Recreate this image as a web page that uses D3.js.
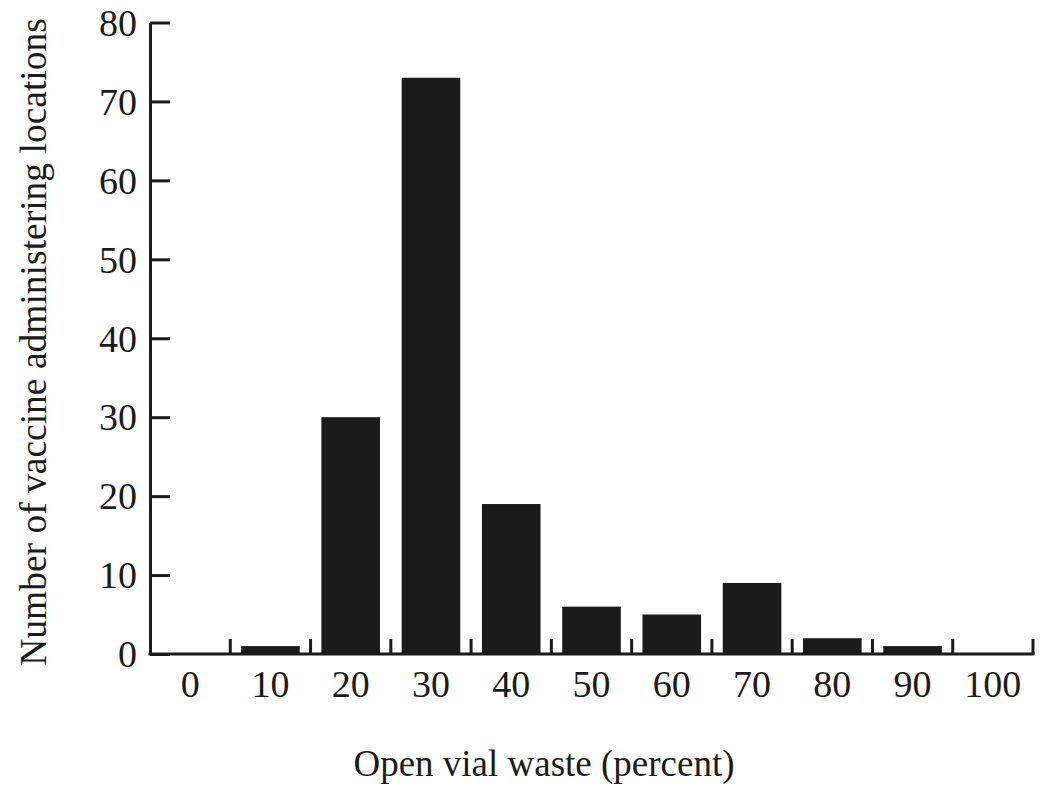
<!DOCTYPE html>
<html lang="en">
<head>
<meta charset="UTF-8">
<title>Open vial waste</title>
<script src="https://d3js.org/d3.v7.min.js"></script>
<style>
body { margin: 0; background: #fff; }
svg text { font-family: "Liberation Serif", "Times New Roman", serif; fill: #1a1a1a; }
</style>
</head>
<body>
<svg width="1050" height="800"></svg>
<script>
// data
const categories = ["0", "10", "20", "30", "40", "50", "60", "70", "80", "90", "100"];
const counts = [0, 1, 30, 73, 19, 6, 5, 9, 2, 1, 0];
const yTicks = [0, 10, 20, 30, 40, 50, 60, 70, 80];

const ink = "#1a1a1a";
const svg = d3.select("svg");

const xScale = d3.scaleBand()
    .domain(categories)
    .range([150, 1033])
    .padding(0);

const yScale = d3.scaleLinear()
    .domain([0, 80])
    .range([654, 22.5]);

// bars
svg.selectAll(".bar")
    .data(categories.map((c, i) => ({cat: c, val: counts[i]})))
    .enter()
    .append("rect")
    .attr("class", "bar")
    .attr("x", d => xScale(d.cat) + xScale.bandwidth() * 0.135)
    .attr("y", d => yScale(d.val))
    .attr("width", xScale.bandwidth() * 0.73)
    .attr("height", d => yScale(0) - yScale(d.val))
    .attr("fill", ink);

// y axis, ticks pointing inward
const yAxis = svg.append("g")
    .attr("transform", "translate(150,0)")
    .call(d3.axisRight(yScale).tickValues(yTicks).tickSize(20).tickSizeOuter(0).tickFormat(""));
yAxis.select(".domain").attr("stroke", ink).attr("stroke-width", 3);
yAxis.selectAll(".tick line").attr("stroke", ink).attr("stroke-width", 3);

svg.selectAll(".ylab")
    .data(yTicks)
    .enter()
    .append("text")
    .attr("class", "ylab")
    .attr("x", 137)
    .attr("y", d => yScale(d))
    .attr("dy", "0.35em")
    .attr("text-anchor", "end")
    .style("font-size", "38px")
    .text(d => d);

// x axis: line, boundary ticks pointing up
svg.append("line")
    .attr("x1", 148.5).attr("x2", 1034.5)
    .attr("y1", yScale(0)).attr("y2", yScale(0))
    .attr("stroke", ink).attr("stroke-width", 3);

const bounds = categories.slice(1).map(c => xScale(c)).concat([xScale.range()[1]]);
svg.selectAll(".xtick")
    .data(bounds)
    .enter()
    .append("line")
    .attr("class", "xtick")
    .attr("x1", d => d).attr("x2", d => d)
    .attr("y1", yScale(0)).attr("y2", yScale(0) - 15)
    .attr("stroke", ink).attr("stroke-width", 3);

svg.selectAll(".xlab")
    .data(categories)
    .enter()
    .append("text")
    .attr("class", "xlab")
    .attr("x", d => xScale(d) + xScale.bandwidth() / 2)
    .attr("y", 697)
    .attr("text-anchor", "middle")
    .style("font-size", "38px")
    .text(d => d);

// axis titles
svg.append("text")
    .attr("x", 544)
    .attr("y", 776)
    .attr("text-anchor", "middle")
    .style("font-size", "37px")
    .text("Open vial waste (percent)");

svg.append("text")
    .attr("transform", "translate(46,342) rotate(-90)")
    .attr("text-anchor", "middle")
    .style("font-size", "37.5px")
    .text("Number of vaccine administering locations");
</script>
</body>
</html>
